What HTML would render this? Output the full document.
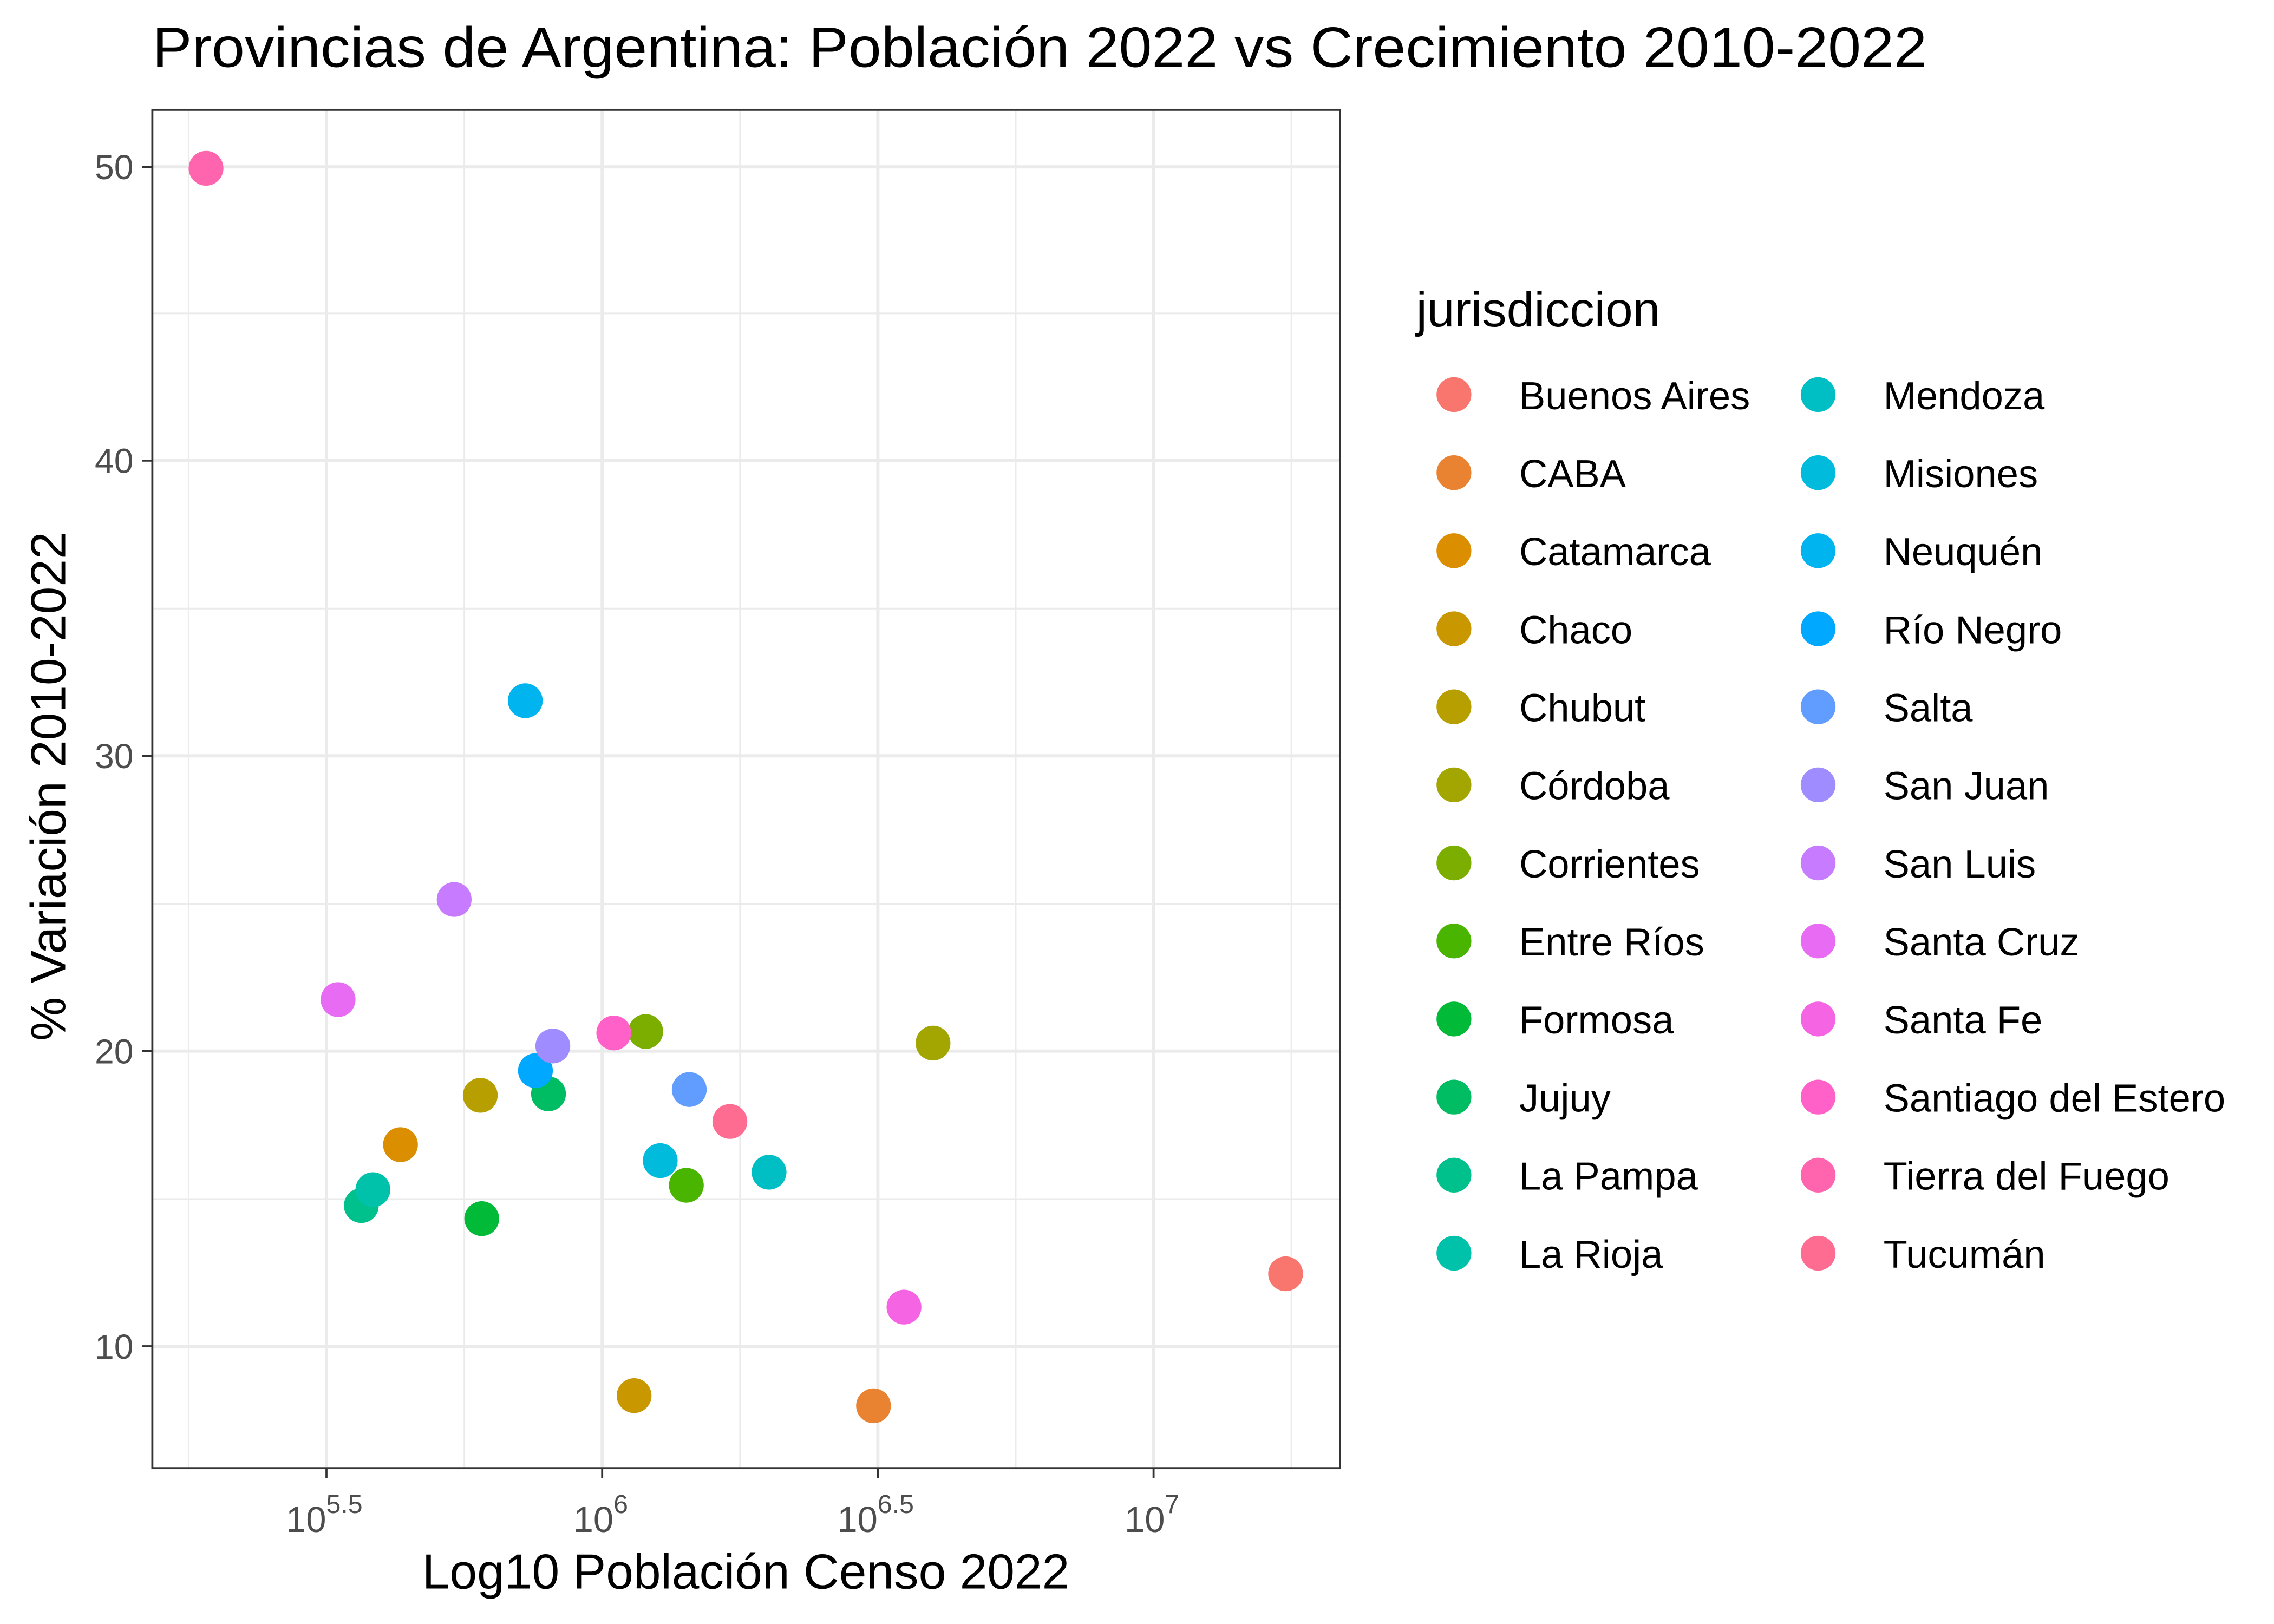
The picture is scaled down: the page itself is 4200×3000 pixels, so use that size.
<!DOCTYPE html>
<html><head><meta charset="utf-8"><style>html,body{margin:0;padding:0;background:#fff}svg{display:block}</style></head>
<body>
<svg width="4200" height="3000" viewBox="0 0 4200 3000" xmlns="http://www.w3.org/2000/svg" font-family="Liberation Sans, Arial, sans-serif">
<rect width="4200" height="3000" fill="#fff"/>
<g transform="translate(0,0) scale(2.68)">
<!-- grid -->
<g stroke="#ebebeb">
<g stroke-width="1.1">
<line x1="105" x2="923.5" y1="826.5" y2="826.5"/><line x1="105" x2="923.5" y1="623" y2="623"/><line x1="105" x2="923.5" y1="419.5" y2="419.5"/><line x1="105" x2="923.5" y1="216" y2="216"/>
<line x1="130" x2="130" y1="75.7" y2="1012"/><line x1="320" x2="320" y1="75.7" y2="1012"/><line x1="510" x2="510" y1="75.7" y2="1012"/><line x1="700" x2="700" y1="75.7" y2="1012"/><line x1="890" x2="890" y1="75.7" y2="1012"/>
</g>
<g stroke-width="2.2">
<line x1="105" x2="923.5" y1="928" y2="928"/><line x1="105" x2="923.5" y1="724.5" y2="724.5"/><line x1="105" x2="923.5" y1="521" y2="521"/><line x1="105" x2="923.5" y1="317.5" y2="317.5"/><line x1="105" x2="923.5" y1="115" y2="115"/>
<line x1="225" x2="225" y1="75.7" y2="1012"/><line x1="415" x2="415" y1="75.7" y2="1012"/><line x1="605" x2="605" y1="75.7" y2="1012"/><line x1="795" x2="795" y1="75.7" y2="1012"/>
</g>
</g>
<!-- points -->
<g>
<circle cx="886" cy="878" r="12" fill="#F8766D"/>
<circle cx="602" cy="969" r="12" fill="#EA8331"/>
<circle cx="276" cy="789" r="12" fill="#DB8E00"/>
<circle cx="437" cy="962" r="12" fill="#C99800"/>
<circle cx="331" cy="755" r="12" fill="#B79F00"/>
<circle cx="643" cy="719" r="12" fill="#A3A500"/>
<circle cx="445" cy="711" r="12" fill="#7CAE00"/>
<circle cx="473" cy="817" r="12" fill="#49B500"/>
<circle cx="332" cy="840" r="12" fill="#00BA38"/>
<circle cx="378" cy="754" r="12" fill="#00BC62"/>
<circle cx="249" cy="831" r="12" fill="#00C08B"/>
<circle cx="257" cy="820" r="12" fill="#00C1AA"/>
<circle cx="530" cy="808" r="12" fill="#00BFC4"/>
<circle cx="455" cy="800" r="12" fill="#00BBDB"/>
<circle cx="362" cy="483" r="12" fill="#00B4F0"/>
<circle cx="369" cy="738" r="12" fill="#00A9FF"/>
<circle cx="475" cy="751" r="12" fill="#619CFF"/>
<circle cx="381" cy="721" r="12" fill="#9F8CFF"/>
<circle cx="313" cy="620" r="12" fill="#C77CFF"/>
<circle cx="233" cy="689" r="12" fill="#E76BF3"/>
<circle cx="623" cy="901" r="12" fill="#F564E3"/>
<circle cx="423" cy="712" r="12" fill="#FF61C9"/>
<circle cx="142" cy="116" r="12" fill="#FF65AE"/>
<circle cx="503" cy="773" r="12" fill="#FF6C91"/>
</g>
<!-- panel border -->
<rect x="105" y="75.7" width="818.5" height="936.3" fill="none" stroke="#333" stroke-width="1.4"/>
<!-- ticks -->
<g stroke="#333" stroke-width="1.4">
<line x1="98" x2="105" y1="928" y2="928"/><line x1="98" x2="105" y1="724.5" y2="724.5"/><line x1="98" x2="105" y1="521" y2="521"/><line x1="98" x2="105" y1="317.5" y2="317.5"/><line x1="98" x2="105" y1="115" y2="115"/>
<line x1="225" x2="225" y1="1012" y2="1019"/><line x1="415" x2="415" y1="1012" y2="1019"/><line x1="605" x2="605" y1="1012" y2="1019"/><line x1="795" x2="795" y1="1012" y2="1019"/>
</g>
<g fill="#4d4d4d" font-size="24" text-anchor="end">
<text x="92" y="936.5">10</text><text x="92" y="733">20</text><text x="92" y="529.5">30</text><text x="92" y="326">40</text><text x="92" y="123.5">50</text>
</g>
<g fill="#4d4d4d" font-size="25">
<text x="197" y="1056">10<tspan font-size="18" dy="-13">5.5</tspan></text>
<text x="395" y="1056">10<tspan font-size="18" dy="-13">6</tspan></text>
<text x="577" y="1056">10<tspan font-size="18" dy="-13">6.5</tspan></text>
<text x="775" y="1056">10<tspan font-size="18" dy="-13">7</tspan></text>
</g>
<!-- titles -->
<text x="105" y="46" font-size="39" fill="#000" textLength="1223" lengthAdjust="spacingAndGlyphs">Provincias de Argentina: Población 2022 vs Crecimiento 2010-2022</text>
<text x="514" y="1095" font-size="34" fill="#000" text-anchor="middle">Log10 Población Censo 2022</text>
<text transform="translate(45,542) rotate(-90)" font-size="34" fill="#000" text-anchor="middle">% Variación 2010-2022</text>
<!-- legend -->
<text x="976" y="225" font-size="34" fill="#000">jurisdiccion</text>
<g font-size="27" fill="#000">
<g transform="translate(0,272)">
<circle cx="1002" cy="0" r="12" fill="#F8766D"/><text x="1047" y="10">Buenos Aires</text>
<circle cx="1002" cy="53.8" r="12" fill="#EA8331"/><text x="1047" y="63.8">CABA</text>
<circle cx="1002" cy="107.6" r="12" fill="#DB8E00"/><text x="1047" y="117.6">Catamarca</text>
<circle cx="1002" cy="161.4" r="12" fill="#C99800"/><text x="1047" y="171.4">Chaco</text>
<circle cx="1002" cy="215.2" r="12" fill="#B79F00"/><text x="1047" y="225.2">Chubut</text>
<circle cx="1002" cy="269" r="12" fill="#A3A500"/><text x="1047" y="279">Córdoba</text>
<circle cx="1002" cy="322.8" r="12" fill="#7CAE00"/><text x="1047" y="332.8">Corrientes</text>
<circle cx="1002" cy="376.6" r="12" fill="#49B500"/><text x="1047" y="386.6">Entre Ríos</text>
<circle cx="1002" cy="430.4" r="12" fill="#00BA38"/><text x="1047" y="440.4">Formosa</text>
<circle cx="1002" cy="484.2" r="12" fill="#00BC62"/><text x="1047" y="494.2">Jujuy</text>
<circle cx="1002" cy="538" r="12" fill="#00C08B"/><text x="1047" y="548">La Pampa</text>
<circle cx="1002" cy="591.8" r="12" fill="#00C1AA"/><text x="1047" y="601.8">La Rioja</text>
<circle cx="1253" cy="0" r="12" fill="#00BFC4"/><text x="1298" y="10">Mendoza</text>
<circle cx="1253" cy="53.8" r="12" fill="#00BBDB"/><text x="1298" y="63.8">Misiones</text>
<circle cx="1253" cy="107.6" r="12" fill="#00B4F0"/><text x="1298" y="117.6">Neuquén</text>
<circle cx="1253" cy="161.4" r="12" fill="#00A9FF"/><text x="1298" y="171.4">Río Negro</text>
<circle cx="1253" cy="215.2" r="12" fill="#619CFF"/><text x="1298" y="225.2">Salta</text>
<circle cx="1253" cy="269" r="12" fill="#9F8CFF"/><text x="1298" y="279">San Juan</text>
<circle cx="1253" cy="322.8" r="12" fill="#C77CFF"/><text x="1298" y="332.8">San Luis</text>
<circle cx="1253" cy="376.6" r="12" fill="#E76BF3"/><text x="1298" y="386.6">Santa Cruz</text>
<circle cx="1253" cy="430.4" r="12" fill="#F564E3"/><text x="1298" y="440.4">Santa Fe</text>
<circle cx="1253" cy="484.2" r="12" fill="#FF61C9"/><text x="1298" y="494.2">Santiago del Estero</text>
<circle cx="1253" cy="538" r="12" fill="#FF65AE"/><text x="1298" y="548">Tierra del Fuego</text>
<circle cx="1253" cy="591.8" r="12" fill="#FF6C91"/><text x="1298" y="601.8">Tucumán</text>
</g>
</g>
</g>
</svg>
</body></html>
